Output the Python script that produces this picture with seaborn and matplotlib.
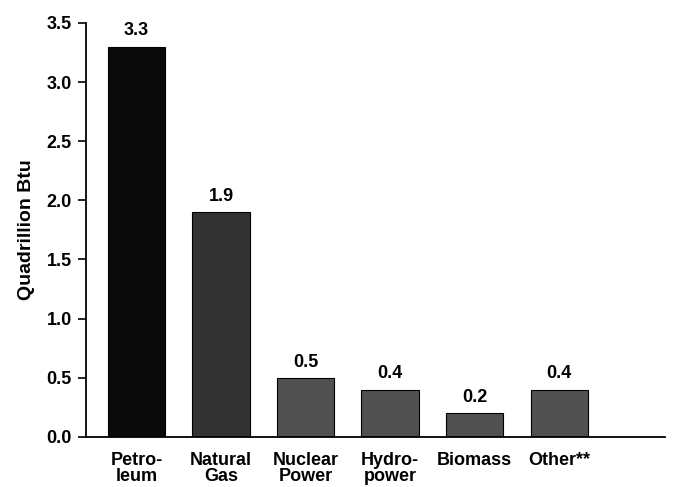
import matplotlib
matplotlib.use("Agg")
import matplotlib.pyplot as plt
import seaborn as sns
import pandas as pd

categories = ["Petro-\nleum", "Natural\nGas", "Nuclear\nPower", "Hydro-\npower", "Biomass", "Other**"]
values = [3.3, 1.9, 0.5, 0.4, 0.2, 0.4]
value_labels = ["3.3", "1.9", "0.5", "0.4", "0.2", "0.4"]
colors = ["#0a0a0a", "#333333", "#505050", "#505050", "#505050", "#505050"]
yticks = [0.0, 0.5, 1.0, 1.5, 2.0, 2.5, 3.0, 3.5]

sns.set_theme(style="white")
plt.rcParams["font.family"] = ["Liberation Sans", "DejaVu Sans"]
plt.rcParams["text.color"] = "black"
plt.rcParams["axes.labelcolor"] = "black"
plt.rcParams["xtick.color"] = "black"
plt.rcParams["ytick.color"] = "black"

df = pd.DataFrame({"cat": categories, "val": values})

fig = plt.figure(figsize=(6.8, 4.87), dpi=100)
ax = fig.add_axes([0.126, 0.103, 0.852, 0.85])
sns.barplot(data=df, x="cat", y="val", hue="cat", palette=colors, legend=False,
            width=0.68, ax=ax, saturation=1, edgecolor="black", linewidth=0.8)

for i, (v, lab) in enumerate(zip(values, value_labels)):
    ax.text(i, v + 0.06, lab, ha="center", va="bottom", fontsize=13, fontweight="bold")

ax.set_ylim(0, 3.5)
ax.set_xlim(-0.6, 6.25)
ax.set_yticks(yticks)
ax.set_yticklabels([f"{t:.1f}" for t in yticks], fontsize=13, fontweight="bold")
ax.set_xticklabels(categories, fontsize=13, fontweight="bold", va="top", linespacing=0.95)
ax.set_xlabel("")
ax.set_ylabel("Quadrillion Btu", fontsize=14, labelpad=8, fontweight="semibold")
ax.tick_params(axis="y", left=True, length=6, width=1.2, color="black", pad=4)
ax.tick_params(axis="x", bottom=False, pad=5)
for s in ["top", "right"]:
    ax.spines[s].set_visible(False)
for s in ["left", "bottom"]:
    ax.spines[s].set_color("black")
    ax.spines[s].set_linewidth(1.3)

fig.savefig("out.png", dpi=100)
